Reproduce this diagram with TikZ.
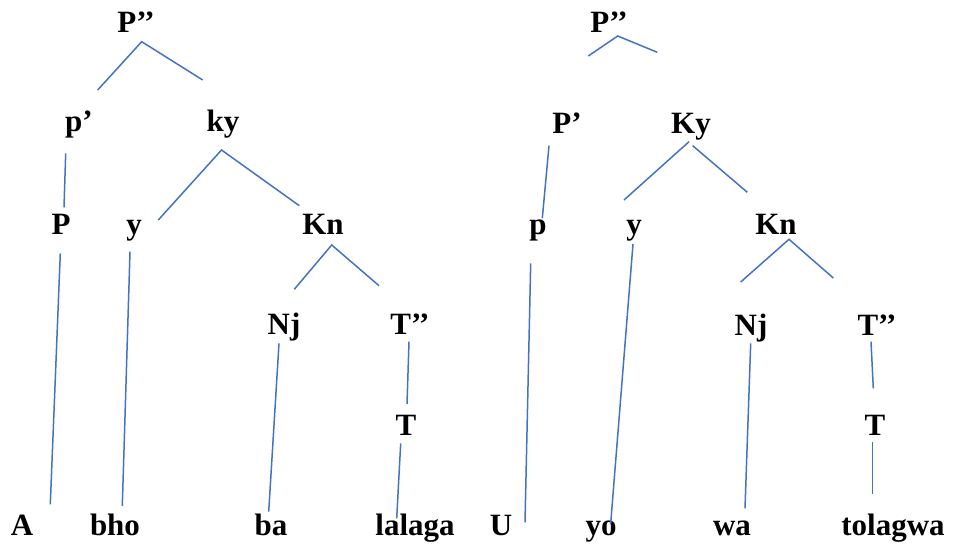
\documentclass[tikz,border=0pt]{standalone}
\usepackage{fontspec}
\setmainfont{Liberation Serif}
\usetikzlibrary{positioning}
\definecolor{treeblue}{RGB}{68,114,196}

\begin{document}
\begin{tikzpicture}[
  x=1pt, y=-1pt,
  lbl/.style={anchor=base, inner sep=0pt, font=\fontsize{31}{31}\selectfont\bfseries},
  branch/.style={draw=treeblue, line width=1.5pt}
]
\useasboundingbox (0,0) rectangle (955,545);

% left tree
\node[lbl] (lPdd) at (136,33) {P’’};
\node[lbl] (lPd) at (79,132) {p’};
\node[lbl] (lky) at (223,132) {ky};
\node[lbl] (lP) at (61,235) {P};
\node[lbl] (ly) at (134,235) {y};
\node[lbl] (lKn) at (323,235) {Kn};
\node[lbl] (lNj) at (284,334) {Nj};
\node[lbl] (lTdd) at (410,334) {T’’};
\node[lbl] (lT) at (406,435) {T};
\node[lbl] (lA) at (22,535) {A};
\node[lbl] (lbho) at (115,535) {bho};
\node[lbl] (lba) at (271,535) {ba};
\node[lbl] (llalaga) at (415,535) {lalaga};

\coordinate (lPdd-top) at (141.7,41.7);
\coordinate (lPdd-l) at (97.7,90);
\coordinate (lPdd-r) at (202.7,80);
\coordinate (lPd-top) at (65.7,153.3);
\coordinate (lPd-bot) at (64,207.3);
\coordinate (lky-top) at (221.5,150);
\coordinate (lky-l) at (158.3,220);
\coordinate (lky-r) at (299.3,205.7);
\coordinate (lP-top) at (60.3,253.3);
\coordinate (lP-bot) at (50.3,504.3);
\coordinate (ly-top) at (130,251.7);
\coordinate (ly-bot) at (122.3,506);
\coordinate (lKn-top) at (331.7,245);
\coordinate (lKn-l) at (294.3,289.3);
\coordinate (lKn-r) at (379,285.7);
\coordinate (lNj-top) at (279,343.3);
\coordinate (lNj-bot) at (268.7,511.7);
\coordinate (lTdd-top) at (409,341.7);
\coordinate (lTdd-bot) at (407,404);
\coordinate (lT-top) at (400.7,443.3);
\coordinate (lT-bot) at (396.7,518.3);

\draw[branch] (lPdd-l) -- (lPdd-top) -- (lPdd-r);
\draw[branch] (lPd-top) -- (lPd-bot);
\draw[branch] (lky-l) -- (lky-top) -- (lky-r);
\draw[branch] (lP-top) -- (lP-bot);
\draw[branch] (ly-top) -- (ly-bot);
\draw[branch] (lKn-l) -- (lKn-top) -- (lKn-r);
\draw[branch] (lNj-top) -- (lNj-bot);
\draw[branch] (lTdd-top) -- (lTdd-bot);
\draw[branch] (lT-top) -- (lT-bot);

% right tree
\node[lbl] (rPdd) at (609,33) {P’’};
\node[lbl] (rPd) at (567,134) {P’};
\node[lbl] (rKy) at (691,134) {Ky};
\node[lbl] (rp) at (538,235) {p};
\node[lbl] (ry) at (634,235) {y};
\node[lbl] (rKn) at (776,235) {Kn};
\node[lbl] (rNj) at (751,335) {Nj};
\node[lbl] (rTdd) at (877,335) {T’’};
\node[lbl] (rT) at (875,435) {T};
\node[lbl] (rU) at (501,535) {U};
\node[lbl] (ryo) at (601,535) {yo};
\node[lbl] (rwa) at (732,535) {wa};
\node[lbl] (rtolagwa) at (893,535) {tolagwa};

\coordinate (rPdd-top) at (617.7,36);
\coordinate (rPdd-l) at (588.3,56);
\coordinate (rPdd-r) at (657.3,52.3);
\coordinate (rPd-top) at (549,145.7);
\coordinate (rPd-bot) at (542.3,218.3);
\coordinate (rKy-tl) at (689,141.7);
\coordinate (rKy-l) at (624,200);
\coordinate (rKy-tr) at (692.7,145.7);
\coordinate (rKy-r) at (747.3,192.3);
\coordinate (rp-top) at (530.7,263.3);
\coordinate (rp-bot) at (525,522.3);
\coordinate (ry-top) at (633,244);
\coordinate (ry-bot) at (610.7,523.3);
\coordinate (rKn-top) at (789,239.3);
\coordinate (rKn-l) at (740.7,282);
\coordinate (rKn-r) at (833.3,278);
\coordinate (rNj-top) at (750.7,343.3);
\coordinate (rNj-bot) at (745,508.3);
\coordinate (rTdd-top) at (871,341.7);
\coordinate (rTdd-bot) at (873.3,388.3);
\coordinate (rT-top) at (872.7,441.7);
\coordinate (rT-bot) at (872.7,494);

\draw[branch] (rPdd-l) -- (rPdd-top) -- (rPdd-r);
\draw[branch] (rPd-top) -- (rPd-bot);
\draw[branch] (rKy-tl) -- (rKy-l);
\draw[branch] (rKy-tr) -- (rKy-r);
\draw[branch] (rp-top) -- (rp-bot);
\draw[branch] (ry-top) -- (ry-bot);
\draw[branch] (rKn-l) -- (rKn-top) -- (rKn-r);
\draw[branch] (rNj-top) -- (rNj-bot);
\draw[branch] (rTdd-top) -- (rTdd-bot);
\draw[branch] (rT-top) -- (rT-bot);
\end{tikzpicture}
\end{document}
